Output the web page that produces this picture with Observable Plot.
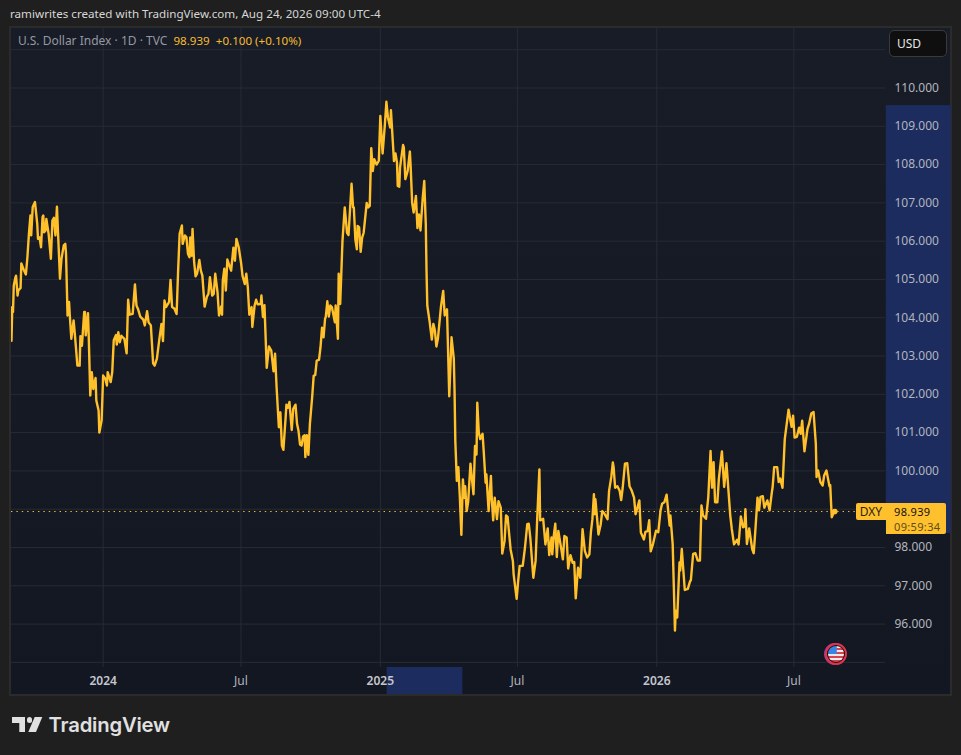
<!DOCTYPE html>
<html><head><meta charset="utf-8">
<script src="https://cdn.jsdelivr.net/npm/d3@7"></script>
<script src="https://cdn.jsdelivr.net/npm/@observablehq/plot@0.6"></script>
<style>
html,body{margin:0;padding:0;background:#1f1f1f;width:961px;height:755px;overflow:hidden;font-family:"Noto Sans",sans-serif}
.abs{position:absolute;white-space:nowrap}
#title{left:10px;top:6px;font-size:11.65px;line-height:16px;color:#d6d6d6}
#frame{left:9px;top:26px;width:943px;height:670px;box-sizing:border-box;border:2px solid #2b2b2b;background:linear-gradient(#181c27,#131722)}
#chart{left:11px;top:28px;width:940px;height:666px}
#legend{left:18px;top:33px;font-size:12px;line-height:16px;color:#9598a1}
#legend b{font-weight:400;font-size:11.6px;color:#f7bb2e;margin-left:3px}
#usd{left:889px;top:30px;width:58px;height:27px;box-sizing:border-box;background:#0f0f0f;border:1px solid #3a3a3a;border-radius:5px;color:#e6e6e6;font-size:12px;line-height:25px;padding-left:7px}
#tag{left:856px;top:503px;width:30px;height:17px;background:#fec02c;border-radius:2px 0 0 2px;color:#2b2310;font-size:12px;line-height:17px;text-align:center}
#price{left:886px;top:503px;width:60px;height:31px;background:#fec02c;border-radius:0 2px 2px 0;color:#111;font-size:11px;line-height:15px;padding:0 0 0 8px;box-sizing:border-box;letter-spacing:.35px}
#price div{height:15px;overflow:hidden;margin-top:0.5px}
#price span{color:#5f4c16;display:block;line-height:15px}
#flag{left:825px;top:643px;width:22px;height:22px;box-sizing:border-box;border-radius:50%;border:2px solid #e0344c;box-shadow:-1px 0 0 #a03aa0;overflow:hidden;background:#101010;padding:1px}
#flag i{display:block;width:100%;height:100%;border-radius:50%;background:linear-gradient(#3b82e6,#3b82e6) 0 0/55% 50% no-repeat,repeating-linear-gradient(#e8e8e8 0 2px,#d8434f 2px 4px)}
#mark{left:12px;top:717px;width:31px;height:15px;background:#e0e0e0;clip-path:polygon(0 0,13px 0,13px 15px,7.3px 15px,7.3px 6px,0 6px)}
#markB{left:12px;top:717px;width:31px;height:15px;background:#e0e0e0;clip-path:polygon(30.3px 0,24px 15px,16.3px 15px,22.7px 0)}
#markC{left:26.5px;top:717.2px;width:5.8px;height:5.8px;background:#e0e0e0;border-radius:50%}
#brand{left:48.5px;top:711px;font-family:Inter,sans-serif;font-weight:600;font-size:20.3px;line-height:28px;color:#e0e0e0;letter-spacing:-.2px}
</style></head>
<body>
<div class="abs" id="title">ramiwrites created with TradingView.com, Aug 24, 2026 09:00 UTC-4</div>
<div class="abs" id="frame"></div>
<div class="abs" id="chart"></div>
<div class="abs" id="legend">U.S. Dollar Index · 1D · TVC <b>98.939</b> <b>+0.100 (+0.10%)</b></div>
<div class="abs" id="usd">USD</div>
<div class="abs" id="tag">DXY</div>
<div class="abs" id="price"><div>98.939</div><span>09:59:34</span></div>
<div class="abs" id="flag"><i></i></div>
<div class="abs" id="mark"></div><div class="abs" id="markB"></div><div class="abs" id="markC"></div>
<div class="abs" id="brand">TradingView</div>
<script>
// Days counted from 2024-01-01
const days = [-121,-120,-119,-118,-116,-115,-113,-112,-109,-108,-105,-102,-100,-98,-96,-95,-93,-90,-87,-86,-84,-82,-80,-79,-78,-76,-75,-72,-69,-67,-65,-63,-61,-57,-55,-52,-50,-49,-47,-45,-44,-42,-39,-37,-34,-31,-30,-28,-25,-24,-23,-20,-19,-17,-15,-13,-10,-9,-6,-5,-2,0,3,5,6,10,12,14,17,18,20,22,24,28,31,33,35,39,42,44,46,49,53,55,58,60,63,66,68,71,74,77,79,81,83,87,89,91,94,97,99,101,104,105,108,110,112,114,115,117,118,120,122,124,127,129,131,134,137,139,141,144,146,148,151,153,156,157,158,160,162,164,167,169,172,174,176,179,182,184,187,189,191,193,196,197,200,202,204,208,209,211,213,216,219,222,225,227,229,232,234,236,238,241,242,244,246,249,251,254,256,258,260,262,264,266,267,269,271,273,276,278,280,282,285,287,289,291,293,294,296,298,300,302,306,307,310,311,313,316,319,322,324,328,330,331,333,335,336,338,340,342,344,348,350,352,354,356,358,361,364,366,369,372,374,376,379,380,384,386,388,389,391,392,396,397,399,402,405,406,408,410,413,415,417,419,422,424,426,427,428,431,434,436,438,440,442,446,449,451,454,457,460,463,464,465,467,469,471,473,475,477,478,480,482,485,489,491,493,494,496,498,501,503,505,506,509,512,513,515,517,520,522,525,527,530,532,534,538,541,542,546,548,550,554,557,560,562,564,567,568,571,573,576,577,581,584,587,589,592,593,595,597,599,601,605,607,609,612,614,617,620,622,624,627,630,633,636,639,642,644,646,648,649,650,654,657,659,662,666,668,671,673,674,676,679,682,684,686,689,692,695,698,701,703,706,708,710,714,716,719,721,723,726,730,733,736,738,741,744,748,749,752,754,755,756,758,761,762,764,768,772,775,776,779,782,785,788,790,792,796,799,802,804,806,808,811,813,817,820,823,825,828,830,833,837,839,842,845,847,848,850,853,857,859,861,864,866,868,871,873,877,880,883,884,886,890,892,894,897,900,905,909,911,913,916,919,921,923,926,930,932,935,938,941,942,944,947,950,952,955,959,960,962,964,966];
const dxy = [103.4,104.28,104.15,104.84,105.04,105.1,104.58,104.71,104.78,105.42,105.26,105.13,105.58,106.19,106.67,106.15,106.89,107.02,106.45,106.06,106.1,105.84,106.63,106.67,106.23,106.28,106.58,106.19,105.54,106.54,106.61,106.15,106.9,105.02,105.54,105.89,105.93,105.67,104.06,104.41,104.06,103.45,103.93,103.49,102.75,102.75,103.52,103.27,104.15,104.15,103.54,104.12,103.5,101.97,102.58,102.14,102.43,101.84,101.58,101.0,101.32,102.49,102.4,102.23,102.58,102.32,102.58,103.41,103.55,103.3,103.62,103.36,103.53,103.45,103.07,104.47,104.08,104.1,104.87,104.32,104.23,104.03,103.95,103.8,104.17,103.88,103.8,102.81,102.75,102.93,103.41,103.84,103.39,104.45,104.28,104.41,104.99,104.28,104.24,104.1,105.23,106.19,106.41,105.93,106.15,106.1,105.67,105.58,106.1,105.62,106.32,105.49,105.08,105.15,105.51,105.23,105.1,104.29,104.55,104.62,105.06,104.58,104.62,105.15,104.67,104.06,104.3,104.08,104.97,105.28,104.71,105.52,105.34,105.23,105.83,105.49,106.06,105.84,105.45,105.1,104.88,105.15,104.8,104.08,104.28,103.76,104.32,104.47,104.35,104.36,104.58,104.02,104.33,102.69,103.25,103.14,102.6,103.06,102.19,101.14,101.53,100.66,100.55,101.41,101.73,101.65,101.8,101.07,101.62,101.73,101.23,101.04,100.69,100.66,100.9,100.93,100.36,100.93,100.42,101.23,101.93,102.49,102.5,102.88,102.9,103.23,103.74,103.49,103.97,104.03,104.43,104.03,104.32,104.28,103.88,104.32,103.45,105.15,104.36,106.0,106.88,106.22,106.16,107.5,106.88,106.88,106.05,105.79,106.4,106.36,105.72,106.09,106.22,107.0,106.88,106.92,108.43,107.83,108.14,108.0,108.1,109.27,108.29,109.05,109.64,109.23,108.97,109.42,108.09,108.29,108.05,107.44,107.42,107.92,108.51,108.45,107.62,107.83,108.34,107.96,107.0,106.75,107.18,106.34,106.7,106.28,107.14,107.57,106.44,105.2,104.32,103.91,103.43,103.84,103.67,103.25,103.45,104.28,104.7,104.06,104.22,101.95,103.49,102.93,102.09,100.78,99.74,100.1,99.3,98.33,99.78,99.3,99.6,98.95,99.2,100.19,99.39,100.65,100.43,101.78,101.0,100.83,100.97,100.35,99.69,99.91,98.95,99.87,99.32,98.71,99.3,98.74,99.21,99.04,97.84,98.17,98.84,98.8,97.95,97.65,97.3,96.66,97.13,97.52,97.52,98.0,98.61,98.62,98.26,97.47,97.21,97.65,98.69,100.04,98.71,98.75,98.08,98.5,97.8,98.26,97.82,98.3,98.62,97.75,98.43,97.95,97.69,98.3,98.26,97.45,97.8,97.6,97.62,96.67,97.47,97.21,98.48,97.91,97.74,97.82,98.4,98.74,99.39,98.87,99.26,98.34,98.61,98.95,98.88,98.74,99.48,99.85,100.22,100.1,99.56,99.6,99.48,99.24,99.56,100.19,100.2,99.6,99.48,99.3,98.87,99.08,99.23,98.39,98.21,98.41,98.43,98.71,97.9,98.09,98.44,98.4,98.97,99.14,99.18,99.38,98.57,98.84,98.09,96.61,95.83,96.35,96.17,97.61,97.4,97.96,96.89,96.92,97.12,97.14,97.83,97.85,97.66,97.66,99.1,98.84,98.75,99.31,100.52,99.56,100.23,99.18,99.18,99.8,100.51,99.58,100.2,99.66,98.84,98.49,98.08,98.2,98.08,98.81,98.53,98.55,99.0,98.09,98.5,97.96,97.85,98.4,99.3,98.97,99.32,99.34,99.04,99.23,98.97,99.45,99.58,100.1,100.1,99.71,99.8,99.56,100.83,101.6,101.15,101.44,100.87,100.89,101.13,100.97,101.31,100.51,101.1,101.22,101.5,101.54,100.71,99.84,100.01,99.71,99.62,99.88,100.01,99.6,99.63,98.79,98.88,98.939];
const lastPrice = 98.939;
const gridPrices = [95,96,97,98,99,100,101,102,103,104,105,106,107,108,109,110,111];
const labelledPrices = [96,97,98,100,101,102,103,104,105,106,107,108,109,110];
const yearTicks = ["2024-01-01","2025-01-01","2026-01-01"];
const yearLabels = ["2024","2025","2026"];
const monthTicks = ["2024-07-01","2025-07-01","2026-07-01"];
const monthLabels = ["Jul","Jul","Jul"];
const xDomain = ["2023-09-02","2026-10-30"];
const yDomain = [94.866,111.554];
const priceRange = {t1:"2026-10-31",t2:"2027-01-25",p1:98.37,p2:109.54};
const dateRange = {t1:"2025-01-10",t2:"2025-04-20",p1:94.866,p2:94.13};

const D = s => new Date(s);
const day0 = Date.UTC(2024,0,1);
const series = days.map((d,i)=>({date:new Date(day0+d*864e5),value:dxy[i]}));
const gold = "#ffc02a", gridColor = "#272b36", band = "#1c2c5e", tickColor = "#b2b5be";
const toRect = r => ({x1:D(r.t1),x2:D(r.t2),y1:r.p1,y2:r.p2});
const lookup = (ticks,labels) => d => labels[ticks.findIndex(t=>+D(t)===+d)];

const chart = Plot.plot({
  width:940,height:666,
  marginLeft:0,marginRight:66,marginTop:0,marginBottom:27,
  style:{background:"transparent",fontFamily:'"Noto Sans",sans-serif',fontSize:"12px",overflow:"hidden"},
  x:{type:"utc",domain:xDomain.map(D)},
  y:{domain:yDomain},
  marks:[
    Plot.gridX(yearTicks.concat(monthTicks).map(D),{stroke:gridColor,strokeOpacity:1}),
    Plot.gridY(gridPrices,{stroke:gridColor,strokeOpacity:1}),
    Plot.rect([toRect(priceRange),toRect(dateRange)],{x1:"x1",x2:"x2",y1:"y1",y2:"y2",fill:band,clip:false}),
    Plot.ruleY([lastPrice],{stroke:gold,strokeDasharray:"1.4,4"}),
    Plot.lineY(series,{x:"date",y:"value",stroke:gold,strokeWidth:2.4,strokeLinejoin:"round"}),
    Plot.dot(series.slice(-1),{x:"date",y:"value",r:2.8,fill:gold}),
    Plot.axisX(yearTicks.map(D),{anchor:"bottom",tickSize:0,tickPadding:8.5,label:null,fill:"#c4c6cd",fontWeight:600,tickFormat:lookup(yearTicks,yearLabels)}),
    Plot.axisX(monthTicks.map(D),{anchor:"bottom",tickSize:0,tickPadding:8.5,label:null,fill:tickColor,tickFormat:lookup(monthTicks,monthLabels)}),
    Plot.axisY(labelledPrices,{anchor:"right",tickSize:0,tickPadding:9,label:null,fill:tickColor,tickFormat:d3.format(".3f")})
  ]
});
document.getElementById("chart").append(chart);
</script>
</body></html>
